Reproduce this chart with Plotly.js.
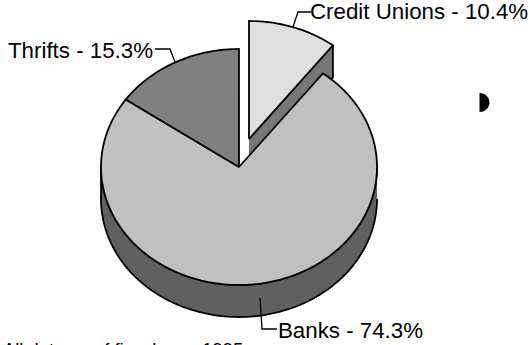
<!DOCTYPE html>
<html>
<head>
<meta charset="utf-8">
<script src="https://cdn.plot.ly/plotly-3.0.1.min.js"></script>
<style>html,body{margin:0;padding:0;background:#fff;overflow:hidden}#chart{width:530px;height:345px}</style>
</head>
<body>
<div id="chart"></div>
<script>
// Market share by type of institution
const categories = ['Thrifts', 'Banks', 'Credit Unions'];
const shares = [15.3, 74.3, 10.4];
const topColors = ['#808080', '#c0c0c0', '#dfdfdf'];
const footnote = 'All data as of fiscal year 1995';

// Pie geometry on a page-sized plot area (y grows downward)
const cx = 239, cy = 167, rx = 138, ry = 118, depth = 32;
const creditOffset = [10, -28];
const ink = '#000';
const lw = 1.8;

// Angles run clockwise from twelve o'clock, in degrees
const pt = (deg, ox = 0, oy = 0) => {
  const a = deg * Math.PI / 180;
  return [cx + ox + rx * Math.sin(a), cy + oy - ry * Math.cos(a)];
};
const arc = (from, to, ox = 0, oy = 0) => {
  const out = [], n = Math.max(2, Math.ceil(Math.abs(to - from) / 1.5));
  for (let i = 0; i <= n; i++) out.push(pt(from + (to - from) * i / n, ox, oy));
  return out;
};
const poly = (points, fill) => ({
  type: 'scatter', mode: 'lines', hoverinfo: 'skip', showlegend: false,
  x: points.map(p => p[0]), y: points.map(p => p[1]),
  fill: 'toself', fillcolor: fill, line: {color: ink, width: lw, simplify: false}
});
const wedge = (from, to, fill, ox = 0, oy = 0) =>
  poly([[cx + ox, cy + oy], ...arc(from, to, ox, oy), [cx + ox, cy + oy]], fill);
const leader = points => ({
  type: 'scatter', mode: 'lines', hoverinfo: 'skip', showlegend: false,
  x: points.map(p => p[0]), y: points.map(p => p[1]),
  line: {color: ink, width: 1.3}
});

const thriftSweep = shares[0] * 3.6;
const bankSweep = shares[1] * 3.6;
const bankStart = -thriftSweep - bankSweep;   // wraps past twelve o'clock on the right
const creditEnd = bankStart + 360;
const [ox, oy] = creditOffset;

const traces = [
  // Pulled-out slice: cut face, then rim, then top
  poly([[cx + ox, cy + oy], pt(creditEnd, ox, oy), pt(creditEnd, ox, oy + depth), [cx + ox, cy + oy + depth]], '#777777'),
  wedge(0, creditEnd, topColors[2], ox, oy),
  // Main body: rim along the front half, then the two top faces
  poly([...arc(90, 270), ...arc(270, 90, 0, depth)], '#606060'),
  wedge(creditEnd, 360 - thriftSweep, topColors[1]),
  wedge(-thriftSweep, 0, topColors[0]),
  leader([[293, 27], [298, 12], [311, 12]]),
  leader([[155, 49], [170, 49], [175, 62]]),
  leader([[260, 298], [262, 329], [277, 329]])
];

const label = (i, x, y, xanchor) => ({
  text: `${categories[i]} - ${shares[i].toFixed(1)}%`,
  x, y, xref: 'x', yref: 'y', xanchor, yanchor: 'middle', showarrow: false,
  font: {family: 'Liberation Sans, Arial, sans-serif', size: 22.3, color: ink}
});

const layout = {
  width: 530, height: 345,
  margin: {l: 0, r: 0, t: 0, b: 0},
  paper_bgcolor: '#fff', plot_bgcolor: '#fff',
  showlegend: false,
  xaxis: {range: [0, 530], visible: false, fixedrange: true},
  yaxis: {range: [345, 0], visible: false, fixedrange: true},
  annotations: [
    label(2, 308, 11, 'left'),
    label(0, 6, 50, 'left'),
    label(1, 276, 330, 'left'),
    {text: footnote, x: 1, y: 336.5, xref: 'x', yref: 'y', xanchor: 'left', yanchor: 'top',
     showarrow: false, font: {family: 'Liberation Sans, Arial, sans-serif', size: 18.4, color: ink}}
  ],
  // Small half-round mark to the right of the pie
  shapes: [{type: 'path', xref: 'x', yref: 'y',
    path: 'M 479.5 93 C 485.5 93 489.5 98 489.5 102.5 C 489.5 107 485.5 112 479.5 112 Z',
    fillcolor: ink, line: {width: 0}}]
};

Plotly.newPlot('chart', traces, layout, {displayModeBar: false, staticPlot: true});
</script>
</body>
</html>
